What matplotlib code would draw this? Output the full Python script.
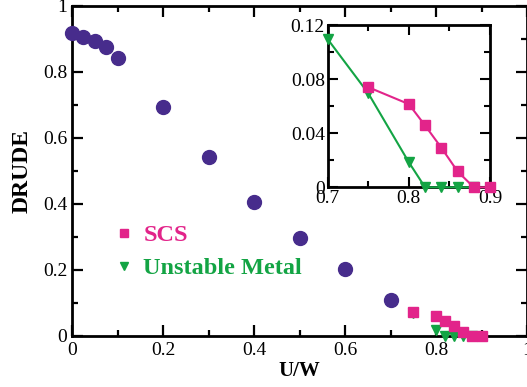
import matplotlib
matplotlib.use("Agg")
import matplotlib.pyplot as plt
from matplotlib.ticker import FixedLocator, FuncFormatter

plt.rcParams['font.family'] = ['Liberation Serif', 'DejaVu Serif']

# Drude weight vs U/W
u_drude = [0.0, 0.025, 0.05, 0.075, 0.1, 0.2, 0.3, 0.4, 0.5, 0.6, 0.7]
drude = [0.918, 0.905, 0.895, 0.877, 0.842, 0.695, 0.541, 0.405, 0.296, 0.202, 0.108]

u_scs = [0.75, 0.80, 0.82, 0.84, 0.86, 0.88, 0.90]
scs = [0.074, 0.0615, 0.0457, 0.0293, 0.0118, 0.0, 0.0]

u_um = [0.70, 0.75, 0.80, 0.82, 0.84, 0.86, 0.88]
um = [0.1095, 0.0695, 0.0185, 0.0, 0.0, 0.0, 0.0]

main_xticks = [0, 0.2, 0.4, 0.6, 0.8, 1.0]
main_yticks = [0, 0.2, 0.4, 0.6, 0.8, 1.0]
inset_xticks = [0.7, 0.8, 0.9]
inset_yticks = [0, 0.04, 0.08, 0.12]

c_drude = '#472C8C'
c_scs = '#E2248A'
c_um = '#13A444'

def fmt(v, pos=None):
    s = ('%.2f' % v).rstrip('0').rstrip('.')
    return s if s else '0'

fig = plt.figure(figsize=(5.27, 3.87), dpi=100)
ax = fig.add_axes([72/527, 1-336/387, 455/527, 330/387])

ax.plot(u_um, um, linestyle='none', marker='v', ms=7.5, color=c_um, zorder=3, clip_on=False,
        label='Unstable Metal')
ax.plot(u_scs, scs, linestyle='none', marker='s', ms=7.5, color=c_scs, zorder=4, clip_on=False,
        label='SCS')
ax.plot(u_drude, drude, linestyle='none', marker='o', ms=10, color=c_drude, zorder=5, clip_on=False)

ax.set_xlim(0, 1)
ax.set_ylim(0, 1)
ax.xaxis.set_major_locator(FixedLocator(main_xticks))
ax.yaxis.set_major_locator(FixedLocator(main_yticks))
ax.xaxis.set_minor_locator(FixedLocator([0.1, 0.3, 0.5, 0.7, 0.9]))
ax.yaxis.set_minor_locator(FixedLocator([0.1, 0.3, 0.5, 0.7, 0.9]))
ax.xaxis.set_major_formatter(FuncFormatter(fmt))
ax.yaxis.set_major_formatter(FuncFormatter(fmt))
ax.tick_params(which='both', direction='in', top=True, right=True, width=1.6, labelsize=14)
ax.tick_params(which='major', length=8)
ax.tick_params(which='minor', length=4.5)
ax.tick_params(axis='x', pad=4)
for s in ax.spines.values():
    s.set_linewidth(2.0)
ax.set_xlabel('U/W', fontsize=15, fontweight='bold', labelpad=2)
ax.set_ylabel('DRUDE', fontsize=17, fontweight='bold', labelpad=7)

h_um, = ax.plot([], [], linestyle='none', marker='v', ms=6, color=c_um)
h_scs, = ax.plot([], [], linestyle='none', marker='s', ms=6, color=c_scs)
leg = ax.legend([h_scs, h_um], ['SCS', 'Unstable Metal'], loc='upper left',
                bbox_to_anchor=(0.05, 0.405), frameon=False, handlelength=0.6,
                handletextpad=0.5, labelspacing=0.45,
                prop={'family': 'Liberation Serif', 'weight': 'bold', 'size': 17.5})
leg.get_texts()[0].set_color(c_scs)
leg.get_texts()[1].set_color(c_um)

# inset
ax2 = fig.add_axes([327.7/527, 1-187.3/387, 162.3/527, 162.3/387])
ax2.plot(u_scs, scs, color=c_scs, lw=1.5, marker='s', ms=7, zorder=4, clip_on=False)
ax2.plot(u_um, um, color=c_um, lw=1.5, marker='v', ms=6.5, zorder=3, clip_on=False)
ax2.set_xlim(0.7, 0.9)
ax2.set_ylim(0, 0.12)
ax2.xaxis.set_major_locator(FixedLocator(inset_xticks))
ax2.yaxis.set_major_locator(FixedLocator(inset_yticks))
ax2.xaxis.set_minor_locator(FixedLocator([0.75, 0.85]))
ax2.yaxis.set_minor_locator(FixedLocator([0.02, 0.06, 0.10]))
ax2.xaxis.set_major_formatter(FuncFormatter(fmt))
ax2.yaxis.set_major_formatter(FuncFormatter(fmt))
ax2.tick_params(which='both', direction='in', top=True, right=True, width=1.5, labelsize=14)
ax2.tick_params(which='major', length=7)
ax2.tick_params(which='minor', length=4)
ax2.tick_params(axis='x', pad=2)
ax2.tick_params(axis='y', pad=2)
for s in ax2.spines.values():
    s.set_linewidth(2.0)

fig.savefig('out.png', dpi=100)
